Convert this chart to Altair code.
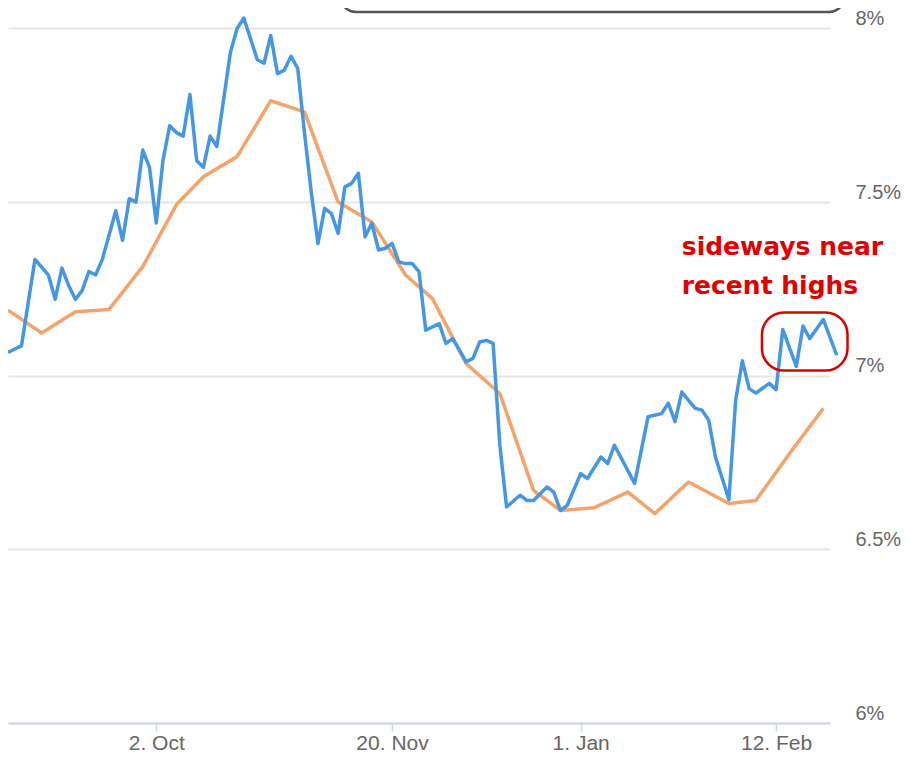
import altair as alt
import pandas as pd

# Trading-day index (0 = first visible session) and MND daily rate, %
blue_idx = [0, 1, 2, 4, 6, 7, 8, 9, 10, 11, 12, 13, 14, 16, 17, 18, 19, 20, 21, 22,
            23, 24, 25, 26, 27, 28, 29, 30, 31, 33, 34, 35, 37, 38, 39, 40, 41, 42, 43,
            44, 45, 46, 47, 48, 49, 50, 51, 52, 53, 54, 55, 56, 57, 58, 59, 60, 61, 62,
            64, 65, 66, 68, 69, 70, 71, 72, 73, 74, 76, 77, 78, 79, 80, 81, 82, 83, 85,
            86, 88, 89, 90, 93, 95, 97, 98, 99, 100, 102, 103, 104, 105, 107, 108, 109,
            110, 111, 113, 114, 115, 117, 118, 119, 121, 123]
blue_val = [7.067, 7.077, 7.086, 7.335, 7.29, 7.22, 7.31, 7.26, 7.22, 7.245, 7.30, 7.29,
            7.335, 7.475, 7.39, 7.51, 7.50, 7.65, 7.60, 7.44, 7.62, 7.72, 7.70, 7.69, 7.81,
            7.62, 7.60, 7.69, 7.66, 7.93, 8.00, 8.03, 7.91, 7.90, 7.98, 7.87, 7.88, 7.92,
            7.885, 7.70, 7.53, 7.381, 7.482, 7.467, 7.41, 7.544, 7.554, 7.583, 7.40, 7.439,
            7.362, 7.367, 7.381, 7.328, 7.323, 7.323, 7.30, 7.131, 7.15, 7.093, 7.107, 7.04,
            7.05, 7.097, 7.102, 7.093, 6.80, 6.622, 6.656, 6.641, 6.641, 6.66, 6.68, 6.665,
            6.612, 6.627, 6.718, 6.704, 6.766, 6.747, 6.80, 6.69, 6.882, 6.891, 6.921, 6.868,
            6.953, 6.906, 6.901, 6.872, 6.766, 6.643, 6.93, 7.043, 6.963, 6.95, 6.978, 6.96,
            7.133, 7.027, 7.143, 7.107, 7.162, 7.059]

# Weekly average (orange)
orange_idx = [0, 5, 10, 15, 20, 25, 29, 34, 39, 44, 49, 54, 59, 63, 68, 73, 78, 82, 87,
              92, 96, 101, 107, 111, 116, 121]
orange_val = [7.189, 7.123, 7.184, 7.191, 7.314, 7.493, 7.573, 7.631, 7.792, 7.76, 7.50,
              7.443, 7.29, 7.222, 7.035, 6.949, 6.67, 6.612, 6.62, 6.665, 6.603, 6.694,
              6.632, 6.641, 6.776, 6.906]

tick_idx = [22, 57, 85, 114]
tick_labels = ["2. Oct", "20. Nov", "1. Jan", "12. Feb"]
y_ticks = [6, 6.5, 7, 7.5, 8]

note_lines = ["sideways near", "recent highs"]
note_x = [100, 100]
note_y = [7.348, 7.236]

ring_x = [111.9]
ring_x2 = [124.6]
ring_y = [7.015]
ring_y2 = [7.182]

legend_x = [49.3]
legend_x2 = [124.2]
legend_y = [8.0475]
legend_y2 = [8.30]

X_DOMAIN = [0, 122]
Y_DOMAIN = [6, 8.059]

blue_df = pd.DataFrame({"i": blue_idx, "v": blue_val})
orange_df = pd.DataFrame({"i": orange_idx, "v": orange_val})
note_df = pd.DataFrame({"i": note_x, "v": note_y, "t": note_lines})
ring_df = pd.DataFrame({"i": ring_x, "i2": ring_x2, "v": ring_y, "v2": ring_y2})
legend_df = pd.DataFrame({"i": legend_x, "i2": legend_x2, "v": legend_y, "v2": legend_y2})

label_expr = " : ".join(f"datum.value == {i} ? '{l}'" for i, l in zip(tick_idx, tick_labels)) + " : ''"

xaxis = alt.Axis(values=tick_idx, labelExpr=label_expr, title=None, grid=False,
                 domainColor="#ccd6eb", domainWidth=2, tickColor="#ccd6eb", tickWidth=1.5,
                 tickSize=8, labelPadding=1, labelFont="Liberation Sans", labelFontSize=21,
                 labelColor="#666666", labelFlush=False)
yaxis = alt.Axis(values=y_ticks, labelExpr="datum.value + '%'", title=None, orient="right",
                 grid=True, gridColor="#e6e6e6", gridWidth=2, domain=False, ticks=False,
                 labelPadding=25, labelOffset=-10, labelFont="Liberation Sans",
                 labelFontSize=20, labelColor="#666666", labelAlign="left")

xs = alt.Scale(domain=X_DOMAIN, nice=False, zero=False)
ys = alt.Scale(domain=Y_DOMAIN, nice=False, zero=False)

orange = alt.Chart(orange_df).mark_line(color="#f4a46a", strokeWidth=3.5, strokeJoin="round", clip=True).encode(
    x=alt.X("i:Q", scale=xs, axis=xaxis),
    y=alt.Y("v:Q", scale=ys, axis=yaxis),
)
blue = alt.Chart(blue_df).mark_line(color="#4597e3", strokeWidth=3.5, strokeJoin="round").encode(
    x=alt.X("i:Q", scale=xs, axis=xaxis),
    y=alt.Y("v:Q", scale=ys, axis=yaxis),
)
ring = alt.Chart(ring_df).mark_rect(fill="transparent", stroke="#dd0000", strokeWidth=2.5,
                                    cornerRadius=22).encode(
    x=alt.X("i:Q", scale=xs, axis=xaxis), x2="i2:Q",
    y=alt.Y("v:Q", scale=ys, axis=yaxis), y2="v2:Q",
)
legend_box = alt.Chart(legend_df).mark_rect(fill="transparent", stroke="#555555", strokeWidth=2.5,
                                            cornerRadius=16).encode(
    x=alt.X("i:Q", scale=xs, axis=xaxis), x2="i2:Q",
    y=alt.Y("v:Q", scale=ys, axis=yaxis), y2="v2:Q",
)
notes = alt.Chart(note_df).mark_text(align="left", baseline="alphabetic", font="DejaVu Sans",
                                     fontWeight="bold", fontSize=25, color="#e00000").encode(
    x=alt.X("i:Q", scale=xs, axis=xaxis),
    y=alt.Y("v:Q", scale=ys, axis=yaxis),
    text="t:N",
)

chart = alt.layer(legend_box, orange, blue, ring, notes).properties(
    width=822, height=715,
    padding={"left": 0, "top": 0, "right": 71, "bottom": 33},
    autosize=alt.AutoSizeParams(type="none"),
).configure_view(strokeWidth=0)

chart.save("out.html", embed_options={"renderer": "svg", "actions": False})
